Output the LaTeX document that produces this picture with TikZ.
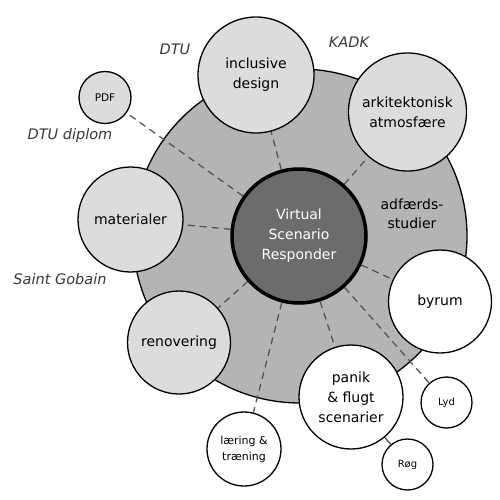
\documentclass[tikz,border=0pt]{standalone}
\usepackage{fontspec}
\setmainfont{DejaVu Sans}
\pgfdeclarelayer{bottom}
\pgfdeclarelayer{lines}
\pgfsetlayers{bottom,lines,main}
\definecolor{ringgray}{RGB}{180,180,180}
\definecolor{lightgray2}{RGB}{220,220,220}
\definecolor{coregray}{RGB}{108,108,108}
\definecolor{dashgray}{RGB}{85,85,85}
\definecolor{labelgray}{RGB}{55,55,55}
\tikzset{
  bub/.style={circle,draw=black,line width=1.3pt,inner sep=0pt,align=center,
    font=\fontsize{14}{20}\selectfont},
  lbub/.style={bub,fill=lightgray2},
  wbub/.style={bub,fill=white},
  sbub/.style={circle,draw=black,line width=1.3pt,inner sep=0pt,align=center,
    font=\fontsize{10.5}{16}\selectfont},
  core/.style={circle,draw=black,line width=3.5pt,fill=coregray,inner sep=0pt,
    align=center,text=white,font=\fontsize{14}{20}\selectfont},
  ringstyle/.style={circle,draw=black,line width=1.3pt,fill=ringgray,inner sep=0pt},
  conn/.style={draw=dashgray,line width=1.3pt,dash pattern=on 7pt off 5pt},
  link/.style={draw=dashgray,line width=1.3pt},
  tag/.style={font=\fontsize{14.5}{18}\selectfont\itshape,text=labelgray,inner sep=0pt},
  plain/.style={align=center,font=\fontsize{14}{19}\selectfont,inner sep=0pt}
}
\begin{document}
\begin{tikzpicture}[x=1pt,y=-1pt]
\useasboundingbox (0,0) rectangle (500,500);
\begin{pgfonlayer}{bottom}
\node[ringstyle,minimum size=334pt] (ring) at (300,236) {};
\end{pgfonlayer}
\node[core,minimum size=134pt] (vsr) at (299,236) {Virtual\\Scenario\\Responder};
\node[lbub,minimum size=116pt] (incl) at (256,75) {inclusive\\design};
\node[lbub,minimum size=118pt] (arki) at (407.5,112) {arkitektonisk\\atmosfære};
\node[lbub,minimum size=105pt] (mat) at (130.5,219.5) {materialer};
\node[lbub,minimum size=103pt] (reno) at (179,342.5) {renovering};
\node[wbub,minimum size=103pt] (byrum) at (440,301.5) {byrum};
\node[wbub,minimum size=104pt] (panik) at (351,397) {panik\\\& flugt\\scenarier};
\node[sbub,fill=lightgray2,minimum size=52pt] (pdf) at (105,97.5) {PDF};
\node[sbub,fill=white,minimum size=51pt,font=\fontsize{10}{14}\selectfont] (lyd) at (446.5,402.5) {Lyd};
\node[sbub,fill=white,minimum size=51pt,font=\fontsize{10}{14}\selectfont] (rog) at (407.5,464.5) {Røg};
\node[sbub,fill=white,minimum size=74pt,font=\fontsize{11}{16}\selectfont] (laer) at (244,449) {læring \&\\træning};
\node[tag] (tdtu) at (175,49) {DTU};
\node[tag] (tkadk) at (349,42) {KADK};
\node[tag] (tdip) at (70,135) {DTU diplom};
\node[tag] (tsg) at (60,279) {Saint Gobain};
\node[plain] (adf) at (412,214) {adfærds-\\studier};
\begin{pgfonlayer}{lines}
\draw[conn] (vsr) -- (incl);
\draw[conn] (vsr) -- (arki);
\draw[conn] (vsr) -- (mat);
\draw[conn] (vsr) -- (pdf);
\draw[conn] (vsr) -- (reno);
\draw[conn] (vsr) -- (byrum);
\draw[conn] (vsr) -- (panik);
\draw[conn] (vsr) -- (lyd);
\draw[conn] (vsr) -- (laer);
\draw[link] (panik) -- (rog);
\end{pgfonlayer}
\end{tikzpicture}
\end{document}
